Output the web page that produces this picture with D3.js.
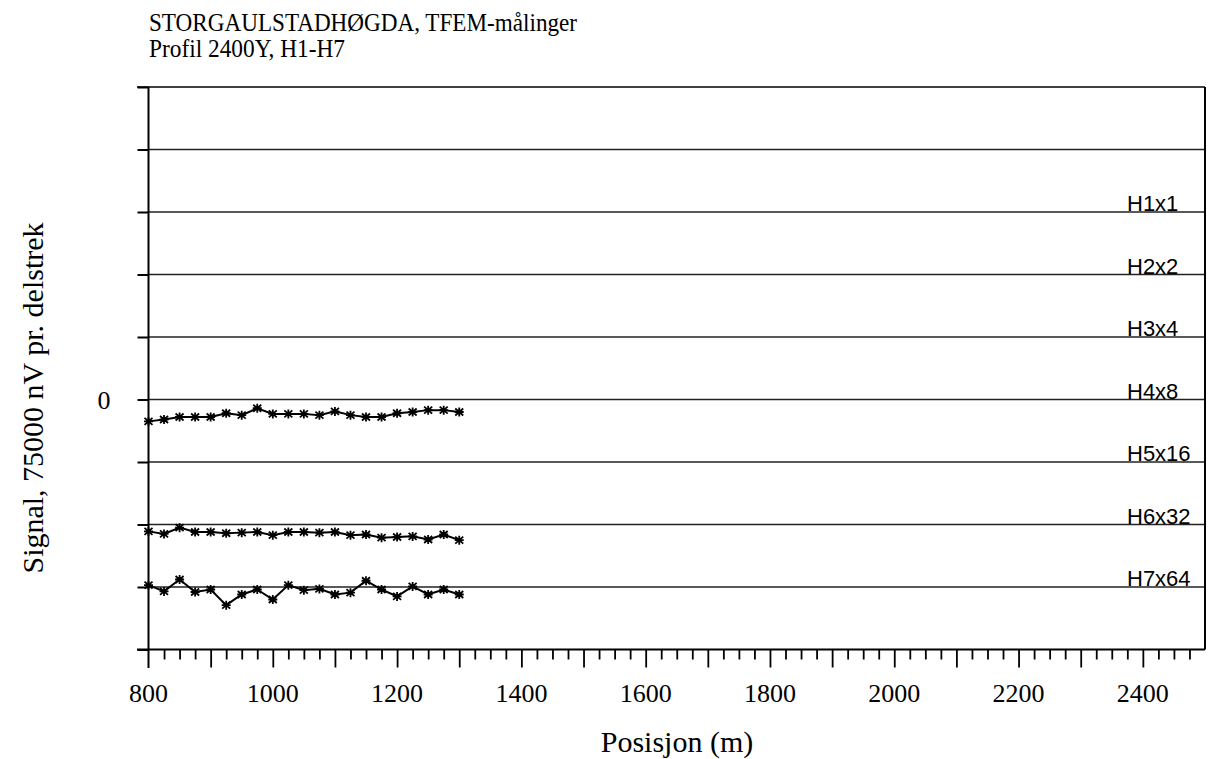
<!DOCTYPE html>
<html><head><meta charset="utf-8">
<script src="https://cdn.jsdelivr.net/npm/d3@7"></script>
<style>body{margin:0;background:#fff}</style>
</head><body>
<script>
// ---- data ----
const positions = [800,825,850,875,900,925,950,975,1000,1025,1050,1075,1100,1125,1150,1175,1200,1225,1250,1275,1300];
const channelLabels = ["H1x1","H2x2","H3x4","H4x8","H5x16","H6x32","H7x64"];
const channelBaselines = [3,2,1,0,-1,-2,-3];
// values in delstrek, relative to channel baseline
const h4Values = [-0.35,-0.32,-0.28,-0.28,-0.28,-0.22,-0.25,-0.14,-0.23,-0.23,-0.23,-0.25,-0.19,-0.25,-0.28,-0.28,-0.22,-0.20,-0.17,-0.17,-0.20];
const h6Values = [-0.11,-0.15,-0.05,-0.12,-0.12,-0.14,-0.13,-0.12,-0.17,-0.12,-0.12,-0.13,-0.12,-0.17,-0.16,-0.21,-0.20,-0.19,-0.24,-0.16,-0.25];
const h7Values = [0.03,-0.07,0.12,-0.08,-0.04,-0.29,-0.12,-0.04,-0.20,0.03,-0.05,-0.03,-0.12,-0.09,0.10,-0.04,-0.15,0.01,-0.12,-0.04,-0.12];
const seriesList = [
  {name:"H4x8", base:0, values:h4Values},
  {name:"H6x32", base:-2, values:h6Values},
  {name:"H7x64", base:-3, values:h7Values}
];
const xTicks = [800,1000,1200,1400,1600,1800,2000,2200,2400];
const yTickLabels = [{v:0, t:"0"}];

// ---- chart ----
const W=1210,H=759;
const svg=d3.select("body").append("svg").attr("width",W).attr("height",H);
const x=d3.scaleLinear().domain([800,2500]).range([148.5,1205]);
const y=d3.scaleLinear().domain([-4,5]).range([649.5,87]);
const serif="'Liberation Serif','Times New Roman',serif";
const sans="'Liberation Sans',Arial,sans-serif";

// gridlines
const gridVals=d3.range(-3,5);
svg.append("g").selectAll("line").data(gridVals).join("line")
  .attr("x1",x(800)).attr("x2",x(2500)).attr("y1",d=>y(d)).attr("y2",d=>y(d))
  .attr("stroke","#222").attr("stroke-width",1.5);

// frame: top and right
svg.append("line").attr("x1",137).attr("x2",x(2500)).attr("y1",y(5)).attr("y2",y(5)).attr("stroke","#000").attr("stroke-width",1.5);
svg.append("line").attr("x1",x(2500)).attr("x2",x(2500)).attr("y1",y(5)).attr("y2",y(-4)).attr("stroke","#000").attr("stroke-width",2);

// y axis with ticks
const yAxis=d3.axisLeft(y).tickValues(d3.range(-4,6)).tickSize(11).tickFormat("");
const gy=svg.append("g").attr("transform",`translate(${x(800)},0)`).call(yAxis);
gy.select(".domain").remove();
gy.selectAll("line").attr("stroke","#000").attr("stroke-width",2);
svg.append("line").attr("x1",x(800)).attr("x2",x(800)).attr("y1",y(5)).attr("y2",668).attr("stroke","#000").attr("stroke-width",2);
svg.append("g").selectAll("text").data(yTickLabels).join("text")
  .attr("x",104).attr("y",d=>y(d.v)+9).attr("text-anchor","middle")
  .attr("font-family",serif).attr("font-size",26).text(d=>d.t);

// x axis
svg.append("line").attr("x1",137).attr("x2",x(2500)).attr("y1",y(-4)).attr("y2",y(-4)).attr("stroke","#000").attr("stroke-width",2);
const minor=d3.range(825,2501,25).filter(v=>v%100!==0);
const major=d3.range(900,2500,100);
const gx=svg.append("g").attr("transform",`translate(0,${y(-4)})`);
gx.call(d3.axisBottom(x).tickValues(minor).tickSize(10).tickFormat(""));
gx.call(g=>g.append("g").call(d3.axisBottom(x).tickValues(major).tickSize(18).tickFormat("")));
gx.selectAll(".domain").remove();
gx.selectAll("line").attr("stroke","#000").attr("stroke-width",1.8);
svg.append("g").selectAll("text").data(xTicks).join("text")
  .attr("x",d=>x(d)).attr("y",702).attr("text-anchor","middle")
  .attr("font-family",serif).attr("font-size",26).text(d=>d);

// channel labels
svg.append("g").selectAll("text").data(channelLabels).join("text")
  .attr("x",1127).attr("y",(d,i)=>y(channelBaselines[i])-1)
  .attr("font-family",sans).attr("font-size",22).text(d=>d);

// series
const line=d3.line().x((d,i)=>x(positions[i])).y(d=>d);
const starPath="M-4,-3.5L4,3.5M-4,3.5L4,-3.5M0,-4.5L0,4.5M-4.5,0L4.5,0";
seriesList.forEach(s=>{
  const ys=s.values.map(v=>y(s.base+v));
  svg.append("path").attr("d",line(ys)).attr("fill","none").attr("stroke","#000").attr("stroke-width",2);
  svg.append("g").selectAll("path").data(ys).join("path")
    .attr("transform",(d,i)=>`translate(${x(positions[i])},${d})`)
    .attr("d",starPath).attr("stroke","#000").attr("stroke-width",1.8);
});

// titles
svg.append("text").attr("x",149).attr("y",31).attr("font-family",serif).attr("font-size",25)
  .attr("textLength",428).attr("lengthAdjust","spacingAndGlyphs").text("STORGAULSTADHØGDA, TFEM-målinger");
svg.append("text").attr("x",149).attr("y",57).attr("font-family",serif).attr("font-size",25)
  .attr("textLength",196).attr("lengthAdjust","spacingAndGlyphs").text("Profil 2400Y, H1-H7");
svg.append("text").attr("x",677).attr("y",752).attr("text-anchor","middle").attr("font-family",serif).attr("font-size",30).text("Posisjon (m)");
svg.append("text").attr("transform","translate(43,398) rotate(-90)").attr("text-anchor","middle").attr("font-family",serif).attr("font-size",30).text("Signal, 75000 nV pr. delstrek");
</script>
</body></html>
